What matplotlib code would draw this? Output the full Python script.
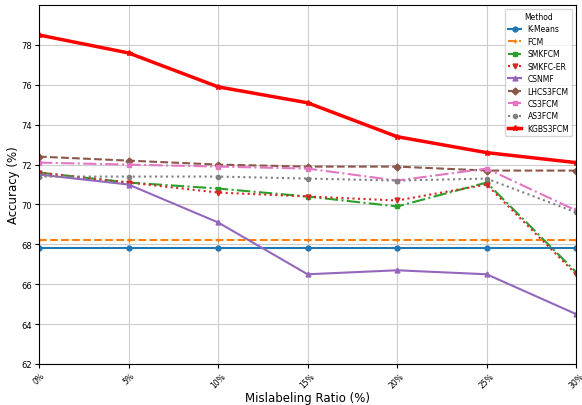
import matplotlib
matplotlib.use("Agg")
import matplotlib.pyplot as plt

ratios = ["0%", "5%", "10%", "15%", "20%", "25%", "30%"]
kmeans = [67.8, 67.8, 67.8, 67.8, 67.8, 67.8, 67.8]
fcm = [68.2, 68.2, 68.2, 68.2, 68.2, 68.2, 68.2]
smkfcm = [71.6, 71.1, 70.8, 70.4, 69.9, 71.1, 66.6]
smkfc_er = [71.6, 71.1, 70.6, 70.4, 70.2, 71.0, 66.5]
csnmf = [71.5, 71.0, 69.1, 66.5, 66.7, 66.5, 64.5]
lhcs3fcm = [72.4, 72.2, 72.0, 71.9, 71.9, 71.7, 71.7]
cs3fcm = [72.1, 72.0, 71.9, 71.8, 71.2, 71.8, 69.7]
as3fcm = [71.4, 71.4, 71.4, 71.3, 71.2, 71.3, 69.6]
kgbs3fcm = [78.5, 77.6, 75.9, 75.1, 73.4, 72.6, 72.1]

fig = plt.figure(figsize=(5.82, 4.06), dpi=100)
ax = fig.add_axes([0.067, 0.101, 0.923, 0.884])
x = list(range(len(ratios)))

ax.plot(x, kmeans, '-', marker='o', color='#1f77b4', lw=1.5, ms=3.5, label='K-Means')
ax.plot(x, fcm, '--', marker='+', color='#ff7f0e', lw=1.5, ms=3.5, label='FCM')
ax.plot(x, smkfcm, '-.', marker='s', color='#2ca02c', lw=1.5, ms=3.5, label='SMKFCM')
ax.plot(x, smkfc_er, ':', marker='v', color='#d62728', lw=1.5, ms=3.5, label='SMKFC-ER')
ax.plot(x, csnmf, '-', marker='^', color='#9467bd', lw=1.5, ms=3.5, label='CSNMF')
ax.plot(x, lhcs3fcm, '--', marker='D', color='#8c564b', lw=1.5, ms=3.5, label='LHCS3FCM')
ax.plot(x, cs3fcm, '-.', marker='s', color='#e377c2', lw=1.5, ms=3.5, label='CS3FCM')
ax.plot(x, as3fcm, ':', marker='o', color='#7f7f7f', lw=1.5, ms=3, label='AS3FCM')
ax.plot(x, kgbs3fcm, '-', marker='*', color='red', lw=2.5, ms=4, label='KGBS3FCM')

ax.set_xlim(0, 6)
ax.set_ylim(62, 80)
ax.set_yticks([62, 64, 66, 68, 70, 72, 74, 76, 78])
ax.set_xticks(x)
ax.set_xticklabels(ratios, rotation=45, fontsize=5.5)
ax.tick_params(axis='y', labelsize=6)
ax.tick_params(length=3, pad=2)
ax.grid(True, color='#cccccc', lw=0.8)
ax.set_xlabel('Mislabeling Ratio (%)', fontsize=8.5, labelpad=1)
ax.set_ylabel('Accuracy (%)', fontsize=8.5, labelpad=1)
ax.legend(title='Method', fontsize=5.5, title_fontsize=5.5, loc='upper right',
          labelspacing=0.45, borderpad=0.4, handlelength=1.8)

fig.savefig('out.png', dpi=100)
